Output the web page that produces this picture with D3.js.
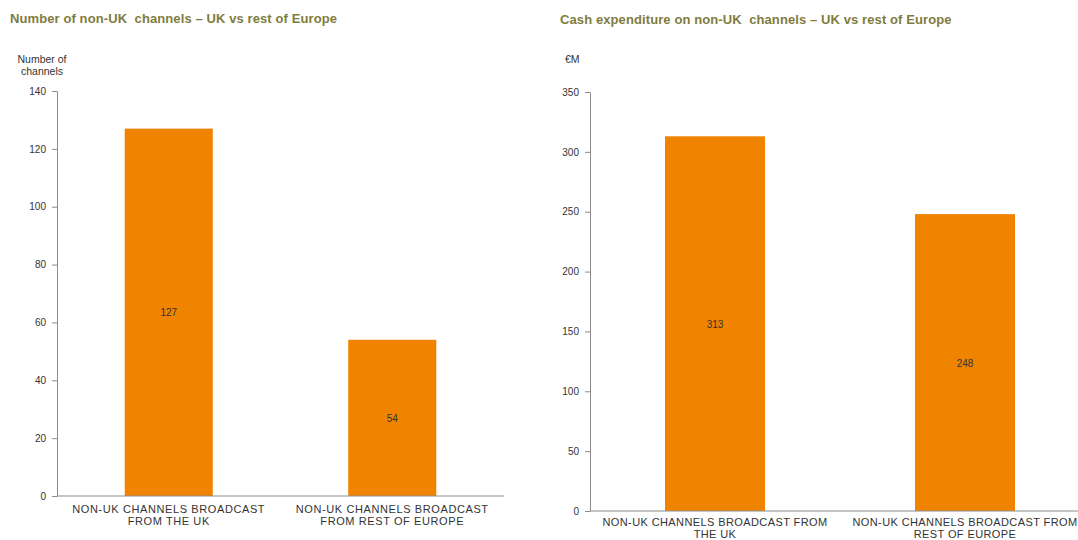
<!DOCTYPE html>
<html>
<head>
<meta charset="utf-8">
<script src="https://cdn.jsdelivr.net/npm/d3@7"></script>
<style>
  html, body { margin: 0; padding: 0; background: #fff; }
  svg { display: block; font-family: "Liberation Sans", Arial, sans-serif; }
  .title { font-weight: bold; fill: #807c3e; font-size: 13px; letter-spacing: 0.1px; white-space: pre; }
  .tick text { fill: #333; font-size: 10px; }
  .axis path, .tick line { stroke: #8c8c8c; }
  .cat { fill: #333; font-size: 11px; }
  .val { fill: #333; font-size: 10px; }
  .unit { fill: #333; font-size: 10.5px; }
</style>
</head>
<body>
<svg id="chart" width="1078" height="540"></svg>
<script>
// Number of non-UK channels
const channelCategories = [
  ["NON-UK CHANNELS BROADCAST", "FROM THE UK"],
  ["NON-UK CHANNELS BROADCAST", "FROM REST OF EUROPE"]
];
const channelValues = [127, 54];
const channelTicks = [0, 20, 40, 60, 80, 100, 120, 140];

// Cash expenditure on non-UK channels (£M)
const spendCategories = [
  ["NON-UK CHANNELS BROADCAST FROM", "THE UK"],
  ["NON-UK CHANNELS BROADCAST FROM", "REST OF EUROPE"]
];
const spendValues = [313, 248];
const spendTicks = [0, 50, 100, 150, 200, 250, 300, 350];

const BAR = "#f08300";
const svg = d3.select("#chart");

function panel(cfg) {
  const g = svg.append("g");
  g.append("text").attr("class", "title")
    .attr("x", cfg.titleX).attr("y", cfg.titleY).text(cfg.title);

  cfg.unit.forEach((line, i) => {
    g.append("text").attr("class", "unit")
      .attr("x", cfg.unitX).attr("y", cfg.unitY + i * 12)
      .attr("text-anchor", cfg.unitAnchor).text(line);
  });

  const y = d3.scaleLinear().domain([0, d3.max(cfg.ticks)])
    .range([cfg.bottom, cfg.top]);
  const x = d3.scaleBand().domain(d3.range(cfg.values.length))
    .range([cfg.left, cfg.right])
    .paddingInner(cfg.pad).paddingOuter(cfg.pad / 2);

  // value axis
  const ya = g.append("g").attr("class", "axis")
    .attr("transform", `translate(${cfg.left},0)`)
    .call(d3.axisLeft(y).tickValues(cfg.ticks).tickSize(5).tickSizeOuter(0).tickPadding(6));
  ya.select(".domain").attr("stroke", "#8c8c8c");

  // bars
  g.selectAll("rect.bar").data(cfg.values).join("rect")
    .attr("class", "bar")
    .attr("x", (d, i) => x(i))
    .attr("width", x.bandwidth())
    .attr("y", d => y(d))
    .attr("height", d => y(0) - y(d))
    .attr("fill", BAR);

  // value labels in the middle of each bar
  g.selectAll("text.val").data(cfg.values).join("text")
    .attr("class", "val")
    .attr("x", (d, i) => x(i) + x.bandwidth() / 2)
    .attr("y", d => (y(d) + y(0)) / 2 + 4)
    .attr("text-anchor", "middle")
    .text(d => d);

  // category axis baseline
  g.append("line")
    .attr("x1", cfg.left).attr("x2", cfg.right)
    .attr("y1", y(0)).attr("y2", y(0))
    .attr("stroke", "#8c8c8c");

  // category labels
  cfg.categories.forEach((lines, i) => {
    const t = g.append("text").attr("class", "cat")
      .attr("text-anchor", "middle")
      .attr("letter-spacing", cfg.catSpacing)
      .attr("x", x(i) + x.bandwidth() / 2)
      .attr("y", y(0) + cfg.catOffset);
    lines.forEach((line, j) => {
      t.append("tspan").attr("x", x(i) + x.bandwidth() / 2)
        .attr("dy", j === 0 ? 0 : 12).text(line);
    });
  });
}

panel({
  title: "Number of non-UK  channels \u2013 UK vs rest of Europe",
  titleX: 10, titleY: 23,
  unit: ["Number of", "channels"], unitX: 42, unitY: 63, unitAnchor: "middle",
  values: channelValues, categories: channelCategories, ticks: channelTicks,
  left: 57, right: 504, top: 91, bottom: 496, pad: 0.606,
  catOffset: 17, catSpacing: "0.6px"
});

panel({
  title: "Cash expenditure on non-UK  channels \u2013 UK vs rest of Europe",
  titleX: 560, titleY: 24,
  unit: ["\u20acM"], unitX: 565, unitY: 63, unitAnchor: "start",
  values: spendValues, categories: spendCategories, ticks: spendTicks,
  left: 590, right: 1090, top: 92, bottom: 511, pad: 0.6,
  catOffset: 15, catSpacing: "0.4px"
});
</script>
</body>
</html>
